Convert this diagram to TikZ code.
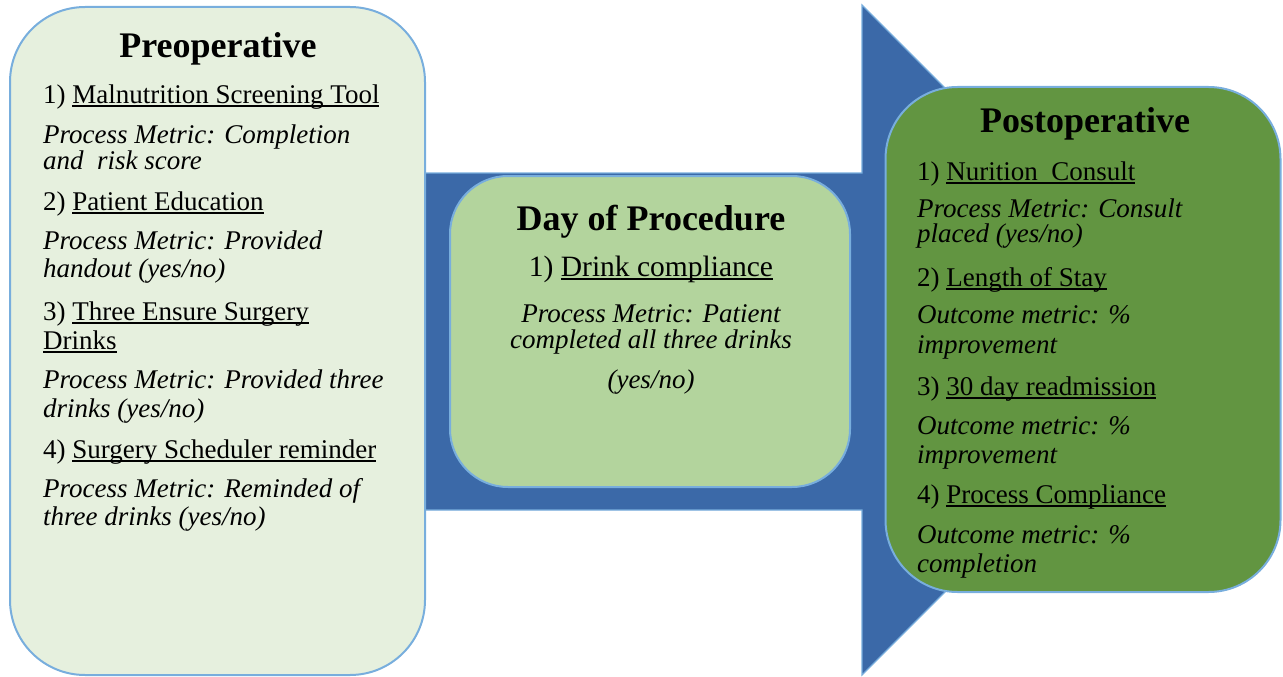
\documentclass[tikz,border=0pt]{standalone}
\usepackage{fontspec}
\setmainfont{Liberation Serif}
\definecolor{arrowblue}{HTML}{3B69A8}
\definecolor{edgeblue}{HTML}{78AEDD}
\definecolor{prefill}{HTML}{E6F0DE}
\definecolor{dayfill}{HTML}{B3D49D}
\definecolor{postfill}{HTML}{629541}
\newcommand\ulx[1]{\setbox0\hbox{#1}\rlap{\rule[-3.6pt]{\wd0}{1.3pt}}\box0}
\begin{document}
\begin{tikzpicture}[x=1pt,y=-1pt,
  phasebox/.style={draw=edgeblue, line width=2pt, inner sep=0pt},
  itemtxt/.style={anchor=base west, inner sep=0pt, font=\fontsize{27}{27}\selectfont},
  metrictxt/.style={anchor=base west, inner sep=0pt, font=\fontsize{27}{27}\selectfont\itshape},
  titletxt/.style={anchor=base, inner sep=0pt, font=\fontsize{36}{36}\selectfont\bfseries}]
\useasboundingbox (0,0) rectangle (1283,677);
% big arrow
\coordinate (a1) at (400,173);
\coordinate (a2) at (862,173);
\coordinate (a3) at (862,5);
\coordinate (a4) at (1197,340);
\coordinate (a5) at (862,675);
\coordinate (a6) at (862,510);
\coordinate (a7) at (400,510);
\draw[fill=arrowblue, draw=edgeblue, line width=1.2pt] (a1) -- (a2) -- (a3) -- (a4) -- (a5) -- (a6) -- (a7) -- cycle;
% boxes
\node (pre) [phasebox, fill=prefill, rounded corners=75pt, minimum width=415pt, minimum height=668pt] at (217.5,341) {};
\node (day) [phasebox, fill=dayfill, rounded corners=58pt, minimum width=400pt, minimum height=311pt] at (650,331.5) {};
\node (post) [phasebox, fill=postfill, rounded corners=72pt, minimum width=395pt, minimum height=505pt] at (1083,339.5) {};
% Preoperative text
\node (preT) [titletxt] at (218,58) {Preoperative};
\node (pre1) [itemtxt] at (43,103) {1) \ulx{Malnutrition Screening Tool}};
\node (pre1a) [metrictxt] at (43,143) {Process Metric: Completion};
\node (pre1b) [metrictxt] at (43,169) {and \ risk score};
\node (pre2) [itemtxt] at (43,210) {2) \ulx{Patient Education}};
\node (pre2a) [metrictxt] at (43,249) {Process Metric: Provided};
\node (pre2b) [metrictxt] at (43,277) {handout (yes/no)};
\node (pre3) [itemtxt] at (43,320) {3) \ulx{Three Ensure Surgery}};
\node (pre3x) [itemtxt] at (43,349) {\ulx{Drinks}};
\node (pre3a) [metrictxt] at (43,388) {Process Metric: Provided three};
\node (pre3b) [metrictxt] at (43,417) {drinks (yes/no)};
\node (pre4) [itemtxt] at (43,458) {4) \ulx{Surgery Scheduler reminder}};
\node (pre4a) [metrictxt] at (43,497) {Process Metric: Reminded of};
\node (pre4b) [metrictxt] at (43,525) {three drinks (yes/no)};
% Day of procedure text
\node (dayT) [titletxt] at (651,230) {Day of Procedure};
\node (day1) [itemtxt, anchor=base, font=\fontsize{29.5}{29.5}\selectfont] at (651,276) {1) \ulx{Drink compliance}};
\node (day1a) [metrictxt, anchor=base] at (651,322) {Process Metric: Patient};
\node (day1b) [metrictxt, anchor=base] at (651,348) {completed all three drinks};
\node (day1c) [metrictxt, anchor=base] at (651,388) {(yes/no)};
% Postoperative text
\node (postT) [titletxt] at (1085,132) {Postoperative};
\node (post1) [itemtxt] at (917,180) {1) \ulx{Nurition \ Consult}};
\node (post1a) [metrictxt] at (917,217) {Process Metric: Consult};
\node (post1b) [metrictxt] at (917,242) {placed (yes/no)};
\node (post2) [itemtxt] at (917,286) {2) \ulx{Length of Stay}};
\node (post2a) [metrictxt] at (917,323) {Outcome metric: \%};
\node (post2b) [metrictxt] at (917,353) {improvement};
\node (post3) [itemtxt] at (917,395) {3) \ulx{30 day readmission}};
\node (post3a) [metrictxt] at (917,434) {Outcome metric: \%};
\node (post3b) [metrictxt] at (917,463) {improvement};
\node (post4) [itemtxt] at (917,503) {4) \ulx{Process Compliance}};
\node (post4a) [metrictxt] at (917,543) {Outcome metric: \%};
\node (post4b) [metrictxt] at (917,572) {completion};
\end{tikzpicture}
\end{document}
